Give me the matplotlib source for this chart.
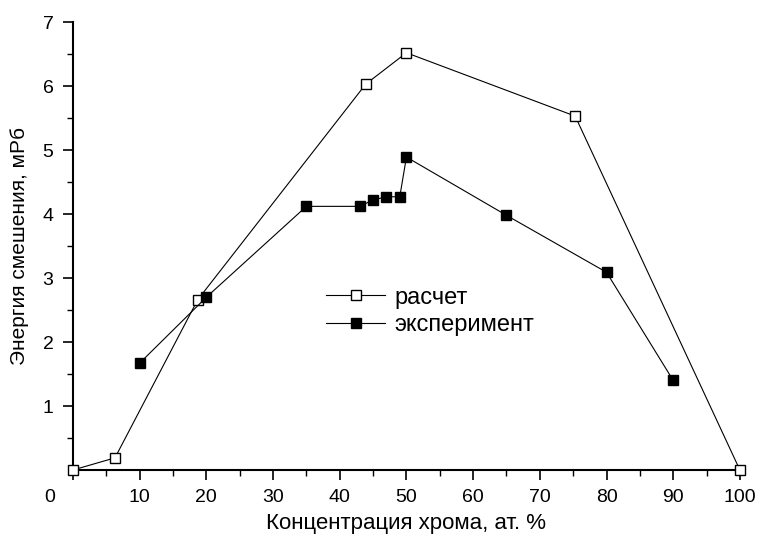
import matplotlib
matplotlib.use("Agg")
import matplotlib.pyplot as plt
import matplotlib.transforms as mtransforms
import numpy as np

plt.rcParams['font.family'] = ['Liberation Sans', 'DejaVu Sans']

# расчет (open squares)
x_calc = [0, 6.3, 18.7, 43.9, 50, 75.3, 100]
y_calc = [0, 0.19, 2.66, 6.03, 6.52, 5.53, 0]

# эксперимент (filled squares)
x_exp = [10, 20, 35, 43, 45, 47, 49, 50, 65, 80, 90]
y_exp = [1.67, 2.70, 4.12, 4.12, 4.22, 4.27, 4.27, 4.89, 3.98, 3.09, 1.40]

x_ticks = [0, 10, 20, 30, 40, 50, 60, 70, 80, 90, 100]
y_ticks = [1, 2, 3, 4, 5, 6, 7]

fig = plt.figure(figsize=(7.57, 5.38), dpi=100)
ax = fig.add_axes([0.0964, 0.1264, 0.881, 0.8326])

ax.plot(x_calc, y_calc, color='black', lw=0.8, marker='s', ms=7,
        mfc='white', mec='black', mew=1.0, clip_on=False, zorder=3,
        label='расчет')
ax.plot(x_exp, y_exp, color='black', lw=0.8, marker='s', ms=7,
        mfc='black', mec='black', clip_on=False, zorder=3,
        label='эксперимент')

ax.set_xlim(0, 100)
ax.set_ylim(0, 7)
ax.set_xticks(x_ticks)
ax.set_yticks(y_ticks)
ax.set_xticks(np.arange(5, 100, 10), minor=True)
ax.set_yticks(np.arange(0.5, 7, 1), minor=True)

for s in ['top', 'right']:
    ax.spines[s].set_visible(False)
for s in ['left', 'bottom']:
    ax.spines[s].set_linewidth(1.5)

ax.tick_params(which='major', direction='out', length=7, width=1.2,
               labelsize=14, pad=7)
ax.tick_params(which='minor', direction='out', length=4, width=1.0)

# сдвинуть "0" влево, как на исходном рисунке
lbl0 = ax.get_xticklabels()[0]
lbl0.set_transform(lbl0.get_transform() +
                   mtransforms.ScaledTranslation(-0.23, 0, fig.dpi_scale_trans))

ax.set_xlabel('Концентрация хрома, ат. %', fontsize=16, labelpad=5)
ax.set_ylabel('Энергия смешения, мРб', fontsize=15, labelpad=10)

ax.legend(loc='upper left', bbox_to_anchor=(0.362, 0.436), frameon=False,
          fontsize=17, handlelength=2.5, handletextpad=0.4,
          labelspacing=0.25, borderpad=0)

fig.savefig('out.png', dpi=100)
